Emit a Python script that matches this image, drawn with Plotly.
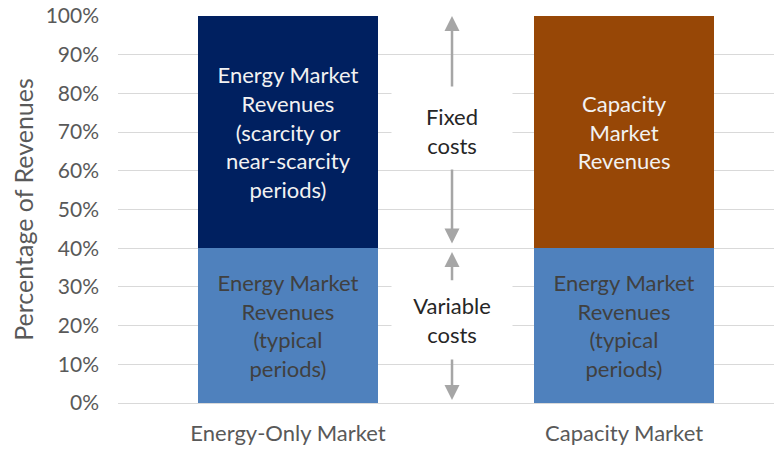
import plotly.graph_objects as go

categories = ["Energy-Only Market", "Capacity Market"]
typical = [40, 40]
scarcity = [60, None]
capacity = [None, 60]

label_typical = "Energy Market<br>Revenues<br>(typical<br>periods)"
label_scarcity = "Energy Market<br>Revenues<br>(scarcity or<br>near-scarcity<br>periods)"
label_capacity = "Capacity<br>Market<br>Revenues"

FONT = "Lato"
BW = 0.536
TS = 22

fig = go.Figure()
fig.add_trace(go.Bar(x=categories, y=typical, width=BW,
                     marker=dict(color="#4F81BD", line=dict(width=0)),
                     text=[label_typical, label_typical], textposition="inside",
                     insidetextanchor="middle", textangle=0,
                     textfont=dict(family=FONT, size=TS, color="#404040"),
                     name="Energy Market Revenues (typical periods)"))
fig.add_trace(go.Bar(x=categories, y=scarcity, width=BW,
                     marker=dict(color="#002060", line=dict(width=0)),
                     text=[label_scarcity, ""], textposition="inside",
                     insidetextanchor="middle", textangle=0,
                     textfont=dict(family=FONT, size=TS, color="#F2F2F2"),
                     name="Energy Market Revenues (scarcity periods)"))
fig.add_trace(go.Bar(x=categories, y=capacity, width=BW,
                     marker=dict(color="#974706", line=dict(width=0)),
                     text=["", label_capacity], textposition="inside",
                     insidetextanchor="middle", textangle=0,
                     textfont=dict(family=FONT, size=TS, color="#F2F2F2"),
                     name="Capacity Market Revenues"))

total = typical[0] + scarcity[0]
split = typical[0]
xm = 0.488
arrow = dict(xref="x", yref="y", axref="x", ayref="y", showarrow=True, text="",
             arrowhead=2, arrowsize=1.2, arrowwidth=2.5, arrowcolor="#A6A6A6")
anns = [
    dict(x=xm, y=total, ax=xm, ay=81.4, **arrow),
    dict(x=xm, y=split + 1.2, ax=xm, ay=62.0, **arrow),
    dict(x=xm, y=split - 1.0, ax=xm, ay=31.3, **arrow),
    dict(x=xm, y=0.8, ax=xm, ay=11.6, **arrow),
    dict(x=xm, y=70.3, xref="x", yref="y", showarrow=False, text="Fixed<br>costs",
         bgcolor="white", width=118, height=74,
         font=dict(family=FONT, size=TS, color="#262626")),
    dict(x=xm, y=21.4, xref="x", yref="y", showarrow=False, text="Variable<br>costs",
         bgcolor="white", width=118, height=74,
         font=dict(family=FONT, size=TS, color="#262626")),
]

fig.update_layout(
    barmode="stack", width=774, height=441,
    margin=dict(l=110, r=0, t=8, b=46),
    plot_bgcolor="white", paper_bgcolor="white",
    showlegend=False, annotations=anns,
    font=dict(family=FONT, color="#595959"),
)
fig.update_xaxes(range=[-0.506, 1.470], showgrid=False, showline=True,
                 linecolor="#D9D9D9", linewidth=1, ticks="", automargin=False,
                 ticklabelstandoff=11, tickfont=dict(family=FONT, size=TS, color="#595959"))
fig.update_yaxes(range=[0, 100], dtick=10, ticksuffix="%", showgrid=True,
                 gridcolor="#D9D9D9", gridwidth=1, zeroline=False, automargin=False,
                 ticklabeloverflow="allow",
                 ticklabelstandoff=18, tickfont=dict(family=FONT, size=21, color="#595959"),
                 title=dict(text="Percentage of Revenues", standoff=16,
                            font=dict(family=FONT, size=25, color="#595959")))

fig.write_html("out.html")
